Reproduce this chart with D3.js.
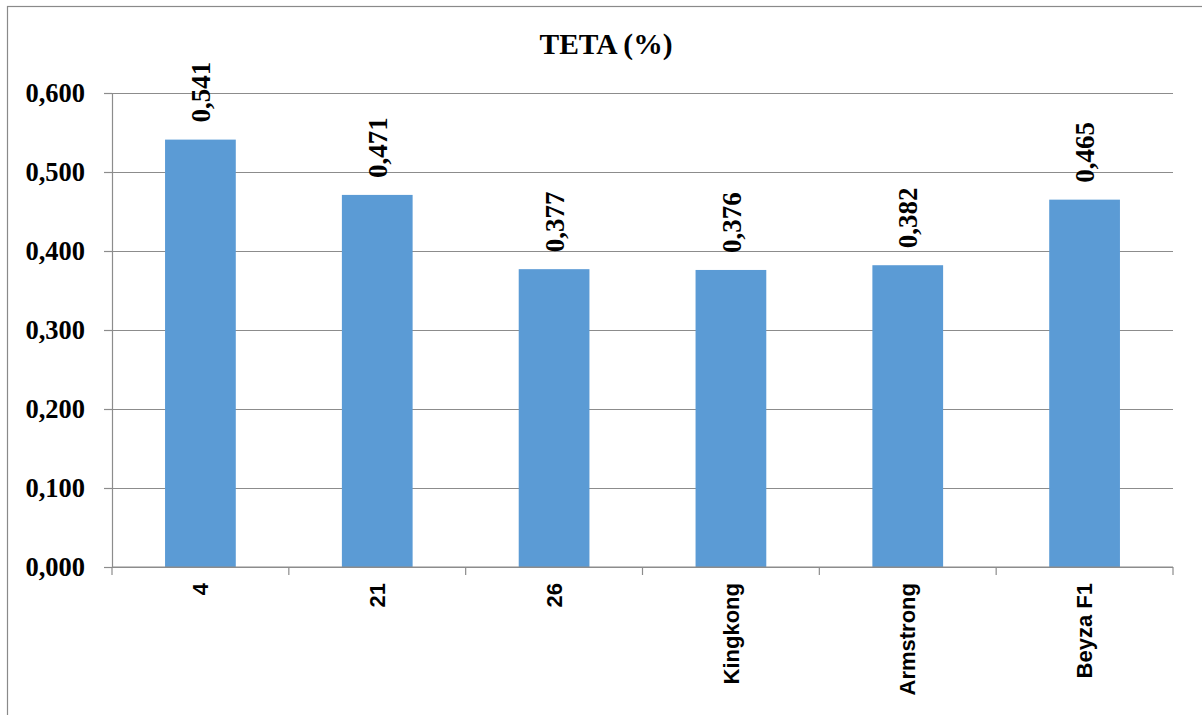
<!DOCTYPE html>
<html>
<head>
<meta charset="utf-8">
<script src="https://cdn.jsdelivr.net/npm/d3@7"></script>
<style>
    html, body { margin: 0; padding: 0; background: #fff; }
    svg { display: block; }
</style>
</head>
<body>
<div id="chart"></div>
<script>
var categories = ['4', '21', '26', 'Kingkong', 'Armstrong', 'Beyza F1'];
var values = [0.541, 0.471, 0.377, 0.376, 0.382, 0.465];
var yTicks = [0, 0.1, 0.2, 0.3, 0.4, 0.5, 0.6];
var title = 'TETA (%)';

var width = 1202, height = 715;
var margin = {top: 93, bottom: 148, left: 112, right: 29};
var serif = '"Liberation Serif", "Times New Roman", serif';
var sans = '"Liberation Sans", Arial, sans-serif';
var gridColor = '#8c8c8c';

var svg = d3.select('#chart')
            .append('svg')
            .attr('width', width)
            .attr('height', height);

// chart frame
svg.append('rect')
    .attr('x', 7.5)
    .attr('y', 6.5)
    .attr('width', width + 10)
    .attr('height', height + 10)
    .attr('fill', '#fff')
    .attr('stroke', '#8a8a8a')
    .attr('stroke-width', 1.2);

var x = d3.scaleBand()
    .domain(categories)
    .range([margin.left, width - margin.right])
    .paddingInner(0.6)
    .paddingOuter(0.3);

var y = d3.scaleLinear()
    .domain([0, 0.6])
    .range([height - margin.bottom, margin.top]);

var fmt = function (d) { return d3.format('.3f')(d).replace('.', ','); };

// gridlines
svg.append('g')
    .attr('transform', 'translate(' + margin.left + ' 0)')
    .call(d3.axisLeft(y).tickValues(yTicks).tickSize(-(width - margin.right - margin.left)).tickFormat(''))
    .call(function (g) {
        g.select('.domain').remove();
        g.selectAll('line').attr('stroke', gridColor).attr('stroke-width', 1.2);
    });

// y axis
svg.append('g')
    .attr('transform', 'translate(' + margin.left + ' 0)')
    .call(d3.axisLeft(y).tickValues(yTicks).tickSize(8).tickPadding(19).tickFormat(fmt).tickSizeOuter(0))
    .call(function (g) {
        g.select('.domain').attr('stroke', gridColor).attr('stroke-width', 1.2);
        g.selectAll('line').attr('stroke', gridColor).attr('stroke-width', 1.2);
        g.selectAll('text')
            .attr('font-family', serif)
            .attr('font-weight', 'bold')
            .attr('font-size', 26.5)
            .attr('fill', '#000');
    });

// bars
svg.append('g')
    .selectAll('rect')
    .data(values)
    .enter().append('rect')
    .attr('x', function (d, i) { return x(categories[i]); })
    .attr('y', function (d) { return y(d); })
    .attr('width', x.bandwidth())
    .attr('height', function (d) { return y(0) - y(d); })
    .attr('fill', '#5b9bd5');

// x axis line and ticks at category boundaries
var step = x.step();
var edges = d3.range(categories.length + 1).map(function (i) {
    return margin.left + i * step;
});
var xAxis = svg.append('g');
xAxis.append('line')
    .attr('x1', margin.left)
    .attr('x2', width - margin.right)
    .attr('y1', y(0))
    .attr('y2', y(0))
    .attr('stroke', gridColor)
    .attr('stroke-width', 1.2);
xAxis.selectAll('.tick')
    .data(edges)
    .enter().append('line')
    .attr('class', 'tick')
    .attr('x1', function (d) { return d; })
    .attr('x2', function (d) { return d; })
    .attr('y1', y(0))
    .attr('y2', y(0) + 8)
    .attr('stroke', gridColor)
    .attr('stroke-width', 1.2);

// category labels
svg.append('g')
    .selectAll('text')
    .data(categories)
    .enter().append('text')
    .attr('transform', function (d) {
        return 'translate(' + (x(d) + x.bandwidth() / 2) + ' ' + (y(0) + 16) + ') rotate(-90)';
    })
    .attr('text-anchor', 'end')
    .attr('dy', '0.35em')
    .attr('font-family', sans)
    .attr('font-weight', 'bold')
    .attr('font-size', 22)
    .attr('fill', '#000')
    .text(function (d) { return d; });

// value labels
svg.append('g')
    .selectAll('text')
    .data(values)
    .enter().append('text')
    .attr('transform', function (d, i) {
        return 'translate(' + (x(categories[i]) + x.bandwidth() / 2) + ' ' + (y(d) - 17) + ') rotate(-90)';
    })
    .attr('text-anchor', 'start')
    .attr('dy', '0.36em')
    .attr('font-family', serif)
    .attr('font-weight', 'bold')
    .attr('font-size', 27)
    .attr('fill', '#000')
    .text(fmt);

// title
svg.append('text')
    .attr('x', 606)
    .attr('y', 54)
    .attr('text-anchor', 'middle')
    .attr('font-family', serif)
    .attr('font-weight', 'bold')
    .attr('font-size', 29.5)
    .attr('fill', '#000')
    .text(title);
</script>
</body>
</html>
